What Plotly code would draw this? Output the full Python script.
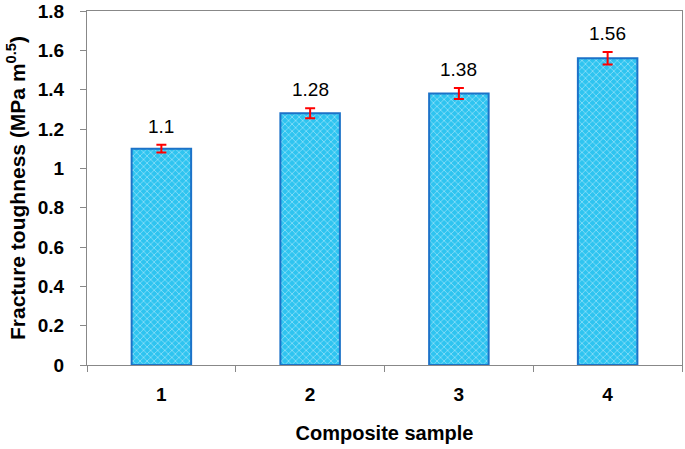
import plotly.graph_objects as go

samples = ["1", "2", "3", "4"]
toughness = [1.10, 1.28, 1.38, 1.56]
errors = [0.02, 0.025, 0.028, 0.032]
y_ticks = [0, 0.2, 0.4, 0.6, 0.8, 1.0, 1.2, 1.4, 1.6, 1.8]

FONT = "Liberation Sans, Arial"

fig = go.Figure()
fig.add_trace(go.Bar(
    x=samples, y=toughness, width=0.4,
    marker=dict(
        color="#2ec4f0",
        line=dict(color="#1c72c8", width=2),
        pattern=dict(shape="x", fgcolor="#e8f9ff", bgcolor="#2ec4f0", size=5, solidity=0.3),
    ),
    error_y=dict(type="data", array=errors, visible=True, color="#ff0000", thickness=2, width=5),
    showlegend=False,
))

for i, (v, e) in enumerate(zip(toughness, errors)):
    fig.add_annotation(x=i, y=v + e, xref="x", yref="y", text=f"{v:g}", showarrow=False,
                       yanchor="bottom", yshift=6,
                       font=dict(family=FONT, size=19, color="#000"))

fig.update_layout(
    width=685, height=449,
    margin=dict(l=87, r=3, t=11, b=84, autoexpand=False),
    paper_bgcolor="white", plot_bgcolor="white",
    font=dict(family=FONT, color="#000"),
    xaxis=dict(
        type="category", tickson="boundaries", ticks="outside", ticklen=6, tickcolor="#888",
        showline=True, linecolor="#888", linewidth=1, mirror=True, showgrid=False,
        tickfont=dict(size=19, family=FONT), automargin=False, ticklabelstandoff=12,
        tickvals=samples, ticktext=[f"<b>{s}</b>" for s in samples],
        title=dict(text="<b>Composite sample</b>", font=dict(size=20), standoff=22),
        range=[-0.5, 3.5],
    ),
    yaxis=dict(
        range=[0, 1.8], tickvals=y_ticks, ticktext=[f"<b>{t:g}</b>" for t in y_ticks],
        ticks="outside", ticklen=6, tickcolor="#888", automargin=False, ticklabelstandoff=12,
        showline=True, linecolor="#888", linewidth=1, mirror=True, showgrid=False, zeroline=False,
        tickfont=dict(size=19, family=FONT),
        title=dict(text="<b>Fracture toughness (MPa m<sup>0.5</sup>)</b>", font=dict(size=21), standoff=6),
    ),
)

fig.write_html("out.html", config={"displayModeBar": False},
               post_script="document.body.style.margin='0';document.body.style.overflow='hidden';")
